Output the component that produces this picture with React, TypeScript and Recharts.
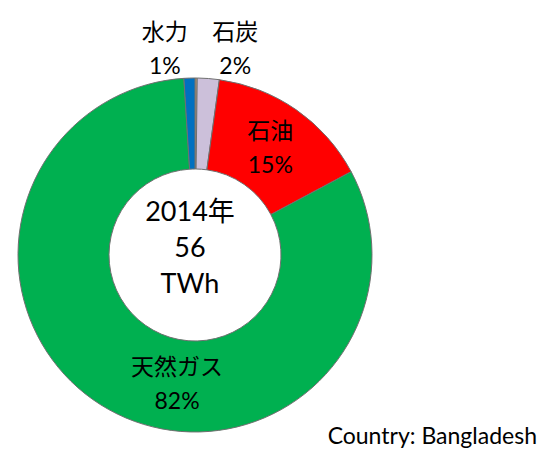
import { PieChart, Pie, Cell } from "recharts";

// 2014年 バングラデシュの電源構成
const names = ["その他", "石炭", "石油", "天然ガス", "水力"];
const values = [0.2, 2.0, 15.0, 81.8, 1.0];
const pctLabels = ["", "2%", "15%", "82%", "1%"];
const colors = ["#c8a070", "#ccc0da", "#ff0000", "#00b050", "#0070c0"];

// ラベル位置（上から時計回りの角度、半径）
const labelAngles: (number | null)[] = [null, 11, null, 188, -8.3];
const labelRadii: (number | null)[] = [null, 211, null, 129, 209];

const W = 540;
const H = 449;
const CX = 190;
const CY = 250;
const OUTER = 177;
const INNER = 86;

const data = names.map((n, i) => ({ name: n, value: values[i], pct: pctLabels[i] }));

const FONT = "Lato, 'Noto Sans CJK JP', sans-serif";

function renderLabel(props: any) {
  const { cx, cy, midAngle, innerRadius, outerRadius, index } = props;
  if (!pctLabels[index]) return null;
  const RAD = Math.PI / 180;
  let x: number, y: number;
  const a = labelAngles[index];
  if (a !== null) {
    const r = labelRadii[index] as number;
    x = cx + r * Math.sin(a * RAD);
    y = cy - r * Math.cos(a * RAD);
  } else {
    const r = (innerRadius + outerRadius) / 2;
    x = cx + r * Math.cos(-midAngle * RAD);
    y = cy + r * Math.sin(-midAngle * RAD);
  }
  const gap = 17;
  return (
    <g key={"lbl" + index}>
      <text x={x} y={y - gap} textAnchor="middle" dominantBaseline="central" fill="#000" fontSize={23} fontFamily={FONT}>
        {names[index]}
      </text>
      <text x={x} y={y + gap} textAnchor="middle" dominantBaseline="central" fill="#000" fontSize={23} fontFamily={FONT}>
        {pctLabels[index]}
      </text>
    </g>
  );
}

export default function App() {
  return (
    <div style={{ position: "absolute", left: 0, top: 0, width: W, height: H, background: "#fff", fontFamily: FONT, overflow: "hidden" }}>
      <PieChart width={W} height={H}>
        <Pie
          data={data}
          dataKey="value"
          nameKey="name"
          cx={CX}
          cy={CY}
          innerRadius={INNER}
          outerRadius={OUTER}
          startAngle={90}
          endAngle={-270}
          stroke="#707070"
          strokeWidth={1}
          label={renderLabel}
          labelLine={false}
          isAnimationActive={false}
        >
          {data.map((d, i) => (
            <Cell key={d.name} fill={colors[i]} />
          ))}
        </Pie>
      </PieChart>
      <div
        style={{
          position: "absolute",
          left: CX - 80,
          top: CY - 57,
          width: 160,
          textAlign: "center",
          fontSize: 27,
          lineHeight: "36px",
          color: "#000",
        }}
      >
        <div>2014年</div>
        <div>56</div>
        <div>TWh</div>
      </div>
      <div style={{ position: "absolute", right: 3, top: 423, fontSize: 23, lineHeight: "24px", color: "#000", whiteSpace: "nowrap" }}>
        Country: Bangladesh
      </div>
    </div>
  );
}
